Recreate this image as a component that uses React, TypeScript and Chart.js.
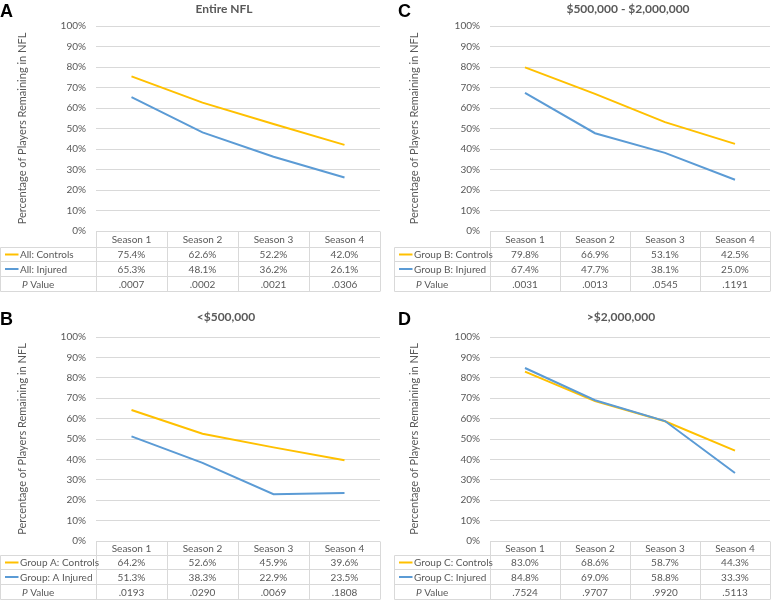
import React, { useEffect, useRef } from 'react';
import { Chart, registerables } from 'chart.js';
Chart.register(...registerables);

const seasons = ['Season 1', 'Season 2', 'Season 3', 'Season 4'];

const nflControls = [75.4, 62.6, 52.2, 42.0];
const nflInjured = [65.3, 48.1, 36.2, 26.1];
const nflP = ['.0007', '.0002', '.0021', '.0306'];

const groupAControls = [64.2, 52.6, 45.9, 39.6];
const groupAInjured = [51.3, 38.3, 22.9, 23.5];
const groupAP = ['.0193', '.0290', '.0069', '.1808'];

const groupBControls = [79.8, 66.9, 53.1, 42.5];
const groupBInjured = [67.4, 47.7, 38.1, 25.0];
const groupBP = ['.0031', '.0013', '.0545', '.1191'];

const groupCControls = [83.0, 68.6, 58.7, 44.3];
const groupCInjured = [84.8, 69.0, 58.8, 33.3];
const groupCP = ['.7524', '.9707', '.9920', '.5113'];

const YELLOW = '#FFC000';
const BLUE = '#5B9BD5';
const GRID = '#D9D9D9';
const TEXT = '#595959';
const FONT = "Lato, 'Open Sans', sans-serif";

type Spec = {
  letter: string;
  title: string;
  controlsLabel: string;
  injuredLabel: string;
  controls: number[];
  injured: number[];
  p: string[];
};

type Box = {
  x: number; y: number; w: number; h: number;
  left: number; right: number; top: number; bottom: number;
  titleX: number; titleY: number; letterX: number; yTitleX: number; tableLeft: number;
  rowH: number[];
};

const panels: { spec: Spec; box: Box }[] = [
  {
    spec: { letter: 'A', title: 'Entire NFL', controlsLabel: 'All: Controls', injuredLabel: 'All: Injured', controls: nflControls, injured: nflInjured, p: nflP },
    box: { x: 0, y: 0, w: 387, h: 300, left: 96, right: 380, top: 26, bottom: 231, titleX: 224, titleY: 9, letterX: 0, yTitleX: 22, tableLeft: 0.5, rowH: [16, 14, 15, 15] },
  },
  {
    spec: { letter: 'C', title: '$500,000 - $2,000,000', controlsLabel: 'Group B: Controls', injuredLabel: 'Group B: Injured', controls: groupBControls, injured: groupBInjured, p: groupBP },
    box: { x: 390, y: 0, w: 384, h: 300, left: 100, right: 380, top: 26, bottom: 231, titleX: 238, titleY: 9, letterX: 8, yTitleX: 24, tableLeft: 4.5, rowH: [16, 14, 15, 15] },
  },
  {
    spec: { letter: 'B', title: '<$500,000', controlsLabel: 'Group A: Controls', injuredLabel: 'Group: A Injured', controls: groupAControls, injured: groupAInjured, p: groupAP },
    box: { x: 0, y: 300, w: 387, h: 301, left: 96, right: 380, top: 37, bottom: 241, titleX: 226, titleY: 17, letterX: 0, yTitleX: 22, tableLeft: 0.5, rowH: [14, 14, 15, 15] },
  },
  {
    spec: { letter: 'D', title: '>$2,000,000', controlsLabel: 'Group C: Controls', injuredLabel: 'Group C: Injured', controls: groupCControls, injured: groupCInjured, p: groupCP },
    box: { x: 390, y: 300, w: 384, h: 301, left: 100, right: 380, top: 37, bottom: 241, titleX: 231, titleY: 17, letterX: 8, yTitleX: 24, tableLeft: 4.5, rowH: [14, 14, 15, 15] },
  },
];

function decorPlugin(spec: Spec, box: Box) {
  return {
    id: 'decor' + spec.letter,
    afterDraw(chart: any) {
      const { ctx, chartArea } = chart;
      const xs = chart.scales.x;
      ctx.save();
      // panel letter
      ctx.fillStyle = '#000';
      ctx.font = "bold 18px 'Liberation Sans', Arial, sans-serif";
      ctx.textAlign = 'left';
      ctx.textBaseline = 'alphabetic';
      ctx.fillText(spec.letter, box.letterX, box.titleY + 8);
      // title
      ctx.fillStyle = TEXT;
      ctx.font = `bold 12px ${FONT}`;
      ctx.textAlign = 'center';
      ctx.textBaseline = 'middle';
      ctx.fillText(spec.title, box.titleX, box.titleY);
      // y axis title
      ctx.save();
      ctx.translate(box.yTitleX, (chartArea.top + chartArea.bottom) / 2);
      ctx.rotate(-Math.PI / 2);
      ctx.font = `11px ${FONT}`;
      ctx.fillText('Percentage of Players Remaining in NFL', 0, 0);
      ctx.restore();

      // table
      const L = chartArea.left;
      const R = chartArea.right;
      const colW = (R - L) / seasons.length;
      const y0 = Math.round(chartArea.bottom) + 0.5;
      const ys = [y0];
      box.rowH.forEach((h) => ys.push(ys[ys.length - 1] + h));
      const tl = box.tableLeft;
      ctx.strokeStyle = GRID;
      ctx.lineWidth = 1;
      ctx.beginPath();
      ctx.moveTo(L, ys[0]); ctx.lineTo(R, ys[0]);
      for (let r = 1; r < ys.length; r++) { ctx.moveTo(tl, ys[r]); ctx.lineTo(R, ys[r]); }
      for (let c = 0; c <= seasons.length; c++) {
        const xx = Math.round(L + c * colW) + 0.5;
        ctx.moveTo(xx, ys[0]); ctx.lineTo(xx, ys[4]);
      }
      ctx.moveTo(tl, ys[1]); ctx.lineTo(tl, ys[4]);
      ctx.stroke();

      ctx.fillStyle = TEXT;
      ctx.font = `10px ${FONT}`;
      ctx.textAlign = 'center';
      ctx.textBaseline = 'middle';
      seasons.forEach((s, i) => {
        const cx = xs.getPixelForValue(i);
        ctx.fillText(s, cx, (ys[0] + ys[1]) / 2 + 0.5);
        ctx.fillText(spec.controls[i].toFixed(1) + '%', cx, (ys[1] + ys[2]) / 2 + 0.5);
        ctx.fillText(spec.injured[i].toFixed(1) + '%', cx, (ys[2] + ys[3]) / 2 + 0.5);
        ctx.fillText(spec.p[i], cx, (ys[3] + ys[4]) / 2 + 0.5);
      });
      // row labels with legend keys
      const rows = [
        { label: spec.controlsLabel, color: YELLOW },
        { label: spec.injuredLabel, color: BLUE },
      ];
      rows.forEach((row, r) => {
        const cy = (ys[r + 1] + ys[r + 2]) / 2;
        ctx.strokeStyle = row.color;
        ctx.lineWidth = 2;
        ctx.beginPath();
        ctx.moveTo(tl + 4.5, cy); ctx.lineTo(tl + 18, cy);
        ctx.stroke();
        ctx.fillStyle = TEXT;
        ctx.textAlign = 'left';
        ctx.fillText(row.label, tl + 19.5, cy + 0.5);
      });
      const py = (ys[3] + ys[4]) / 2 + 0.5;
      ctx.textAlign = 'left';
      ctx.font = `italic 10px ${FONT}`;
      ctx.fillText('P', tl + 21.5, py);
      const pw = ctx.measureText('P').width;
      ctx.font = `10px ${FONT}`;
      ctx.fillText(' Value', tl + 21.5 + pw, py);
      ctx.restore();
    },
  };
}

function Panel({ spec, box }: { spec: Spec; box: Box }) {
  const ref = useRef<HTMLCanvasElement>(null);
  useEffect(() => {
    if (!ref.current) return;
    const chart = new Chart(ref.current, {
      type: 'line',
      data: {
        labels: seasons,
        datasets: [
          { label: spec.controlsLabel, data: spec.controls, borderColor: YELLOW, backgroundColor: YELLOW, borderWidth: 2, pointRadius: 0, tension: 0, fill: false, order: 1 },
          { label: spec.injuredLabel, data: spec.injured, borderColor: BLUE, backgroundColor: BLUE, borderWidth: 2, pointRadius: 0, tension: 0, fill: false, order: 0 },
        ],
      },
      options: {
        responsive: false,
        maintainAspectRatio: false,
        animation: false,
        layout: { padding: { left: 0, top: box.top, right: box.w - box.right, bottom: box.h - box.bottom } },
        plugins: { legend: { display: false }, title: { display: false }, tooltip: { enabled: false } },
        scales: {
          x: { type: 'category', display: false, offset: true },
          y: {
            min: 0,
            max: 100,
            ticks: { stepSize: 10, padding: 10, color: TEXT, font: { family: FONT, size: 10 }, callback: (v: any) => v + '%' },
            grid: { color: GRID, drawTicks: false, lineWidth: 1 },
            border: { display: false },
            afterFit: (s: any) => { s.width = box.left; },
          },
        },
      },
      plugins: [decorPlugin(spec, box)],
    } as any);
    return () => chart.destroy();
  }, []);
  return (
    <canvas
      ref={ref}
      width={box.w}
      height={box.h}
      style={{ position: 'absolute', left: box.x, top: box.y, width: box.w, height: box.h }}
    />
  );
}

export default function App() {
  return (
    <div style={{ position: 'absolute', left: 0, top: 0, width: 774, height: 601, background: '#fff' }}>
      {panels.map((p) => (
        <Panel key={p.spec.letter} spec={p.spec} box={p.box} />
      ))}
    </div>
  );
}
